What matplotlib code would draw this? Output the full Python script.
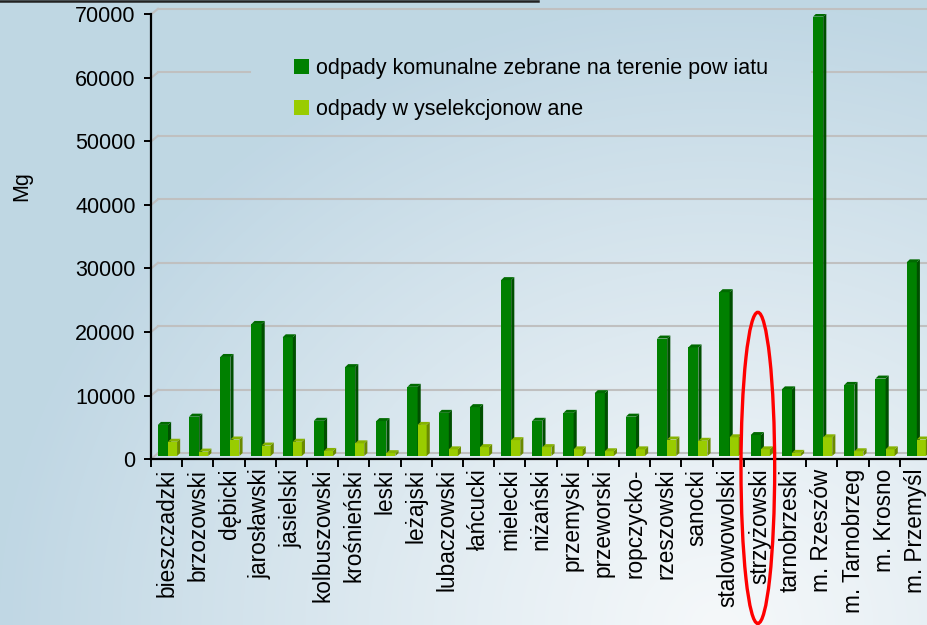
import numpy as np
import matplotlib
matplotlib.use("Agg")
import matplotlib.pyplot as plt
from matplotlib.patches import Patch, Ellipse, Polygon
from matplotlib.lines import Line2D

# dane: odpady w powiatach [Mg]
powiaty = ['bieszczadzki', 'brzozowski', 'dębicki', 'jarosławski', 'jasielski',
           'kolbuszowski', 'krośnieński', 'leski', 'leżajski', 'lubaczowski',
           'łańcucki', 'mielecki', 'niżański', 'przemyski', 'przeworski',
           'ropczycko-', 'rzeszowski', 'sanocki', 'stalowowolski', 'strzyżowski',
           'tarnobrzeski', 'm. Rzeszów', 'm. Tarnobrzeg', 'm. Krosno', 'm. Przemyśl']
komunalne = [4900, 6200, 15600, 20800, 18700, 5550, 14000, 5500, 10900, 6800,
             7700, 27700, 5550, 6800, 9900, 6200, 18500, 17100, 25800, 3300,
             10500, 69200, 11200, 12200, 30500]
wyselekcjonowane = [2250, 700, 2600, 1650, 2250, 800, 2000, 450, 4900, 1050,
                    1400, 2500, 1400, 1050, 750, 1050, 2600, 2400, 2950, 1050,
                    500, 2950, 750, 1050, 2600]
etykiety = ['odpady komunalne zebrane na terenie pow iatu', 'odpady w yselekcjonow ane']
wyrozniony = 'strzyżowski'

W, H = 927, 625
plt.rcParams['font.family'] = ['Liberation Sans', 'DejaVu Sans']
FS = 15.5

fig = plt.figure(figsize=(W / 100, H / 100), dpi=100)

# tlo z gradientem
bg = fig.add_axes([0, 0, 1, 1], zorder=-10)
yy, xx = np.mgrid[0:H, 0:W]
t = np.sqrt(((xx - 720) / 720.0) ** 2 + ((yy - 625) / 620.0) ** 2)
t = np.clip(t, 0, 1) ** 1.1
dark = np.array([192, 215, 228]) / 255.0
light = np.array([245, 248, 250]) / 255.0
img = light[None, None, :] * (1 - t[..., None]) + dark[None, None, :] * t[..., None]
bg.imshow(img, aspect='auto', extent=[0, 1, 0, 1])
bg.axis('off')

n = len(powiaty)
left = 151 / W
bottom = (H - 459) / H
ax = fig.add_axes([left, bottom, n * 31.2 / W, (459 - 14.5) / H])
ax.set_facecolor('none')
ax.set_xlim(0, n)
ax.set_ylim(0, 70000)

# "glebia" 3D
floor = 470
dx, dy = 0.1, 470
gdx, gdy = 0.224, 900

# linie siatki na tylnej scianie
for v in range(0, 70001, 10000):
    ax.plot([0, gdx], [v, v + gdy], color='#c0c0c0', lw=1.5, zorder=1, clip_on=False)
    if v == 60000:
        ax.plot([gdx, 3.17], [v + gdy] * 2, color='#c0c0c0', lw=1.5, zorder=1)
        ax.plot([21.19, n], [v + gdy] * 2, color='#c0c0c0', lw=1.5, zorder=1)
    else:
        ax.plot([gdx, n], [v + gdy] * 2, color='#c0c0c0', lw=1.5, zorder=1, clip_on=False)

x = np.arange(n)


def slupki(x0, w, vals, front, side, top, z):
    ax.bar(x0, vals, width=w, bottom=floor, align='edge', color=front, zorder=z)
    for xi, v in zip(x0, vals):
        x1 = xi + w
        ax.add_patch(Polygon([(x1, floor), (x1 + dx, floor + dy), (x1 + dx, floor + v + dy),
                              (x1, floor + v)], closed=True, facecolor=side, edgecolor='none', zorder=z))
        ax.add_patch(Polygon([(xi, floor + v), (xi + dx, floor + v + dy), (x1 + dx, floor + v + dy),
                              (x1, floor + v)], closed=True, facecolor=top, edgecolor='none', zorder=z))


slupki(x + 0.22, 0.325, komunalne, '#008000', '#004f00', '#006a00', 3)
slupki(x + 0.545, 0.29, wyselekcjonowane, '#99cc00', '#6a8a00', '#86b300', 4)

# osie
for s in ['top', 'right']:
    ax.spines[s].set_visible(False)
for s in ['left', 'bottom']:
    ax.spines[s].set_linewidth(1.6)
    ax.spines[s].set_zorder(6)

ax.set_yticks(range(0, 70001, 10000))
ax.tick_params(axis='y', length=5, width=1.4, pad=6, labelsize=FS)
ax.set_xticks(x + 0.5)
ax.set_xticklabels(powiaty, rotation=90, fontsize=16.3)
ax.set_xticks(np.arange(n + 1), minor=True)
ax.tick_params(axis='x', which='major', length=0, pad=7)
ax.tick_params(axis='x', which='minor', length=6, width=1.4, direction='out')

fig.text(22 / W, 1 - 186 / H, 'Mg', rotation=90, ha='center', va='center', fontsize=15.5)

# legenda
uchwyty = [Patch(facecolor='#008000', edgecolor='none'),
           Patch(facecolor='#99cc00', edgecolor='none')]
ax.legend(uchwyty, etykiety, loc='upper left', bbox_to_anchor=(294 / W, 1 - 58 / H),
          bbox_transform=fig.transFigure, frameon=False, fontsize=FS,
          handlelength=0.7, handleheight=0.7, handletextpad=0.3,
          labelspacing=0.95, borderpad=0, borderaxespad=0)

# czerwona elipsa wokol strzyżowskiego
i = powiaty.index(wyrozniony)
ax.add_patch(Ellipse((i + 0.45, -1400), 1.08, 49000, facecolor='none',
                     edgecolor='#ff0000', lw=2.4, zorder=8, clip_on=False))

# czarna linia u gory
fig.add_artist(Line2D([0, 538 / W], [1 - 1 / H] * 2, color='#222222', lw=1.8))

fig.savefig('out.png', dpi=100)
